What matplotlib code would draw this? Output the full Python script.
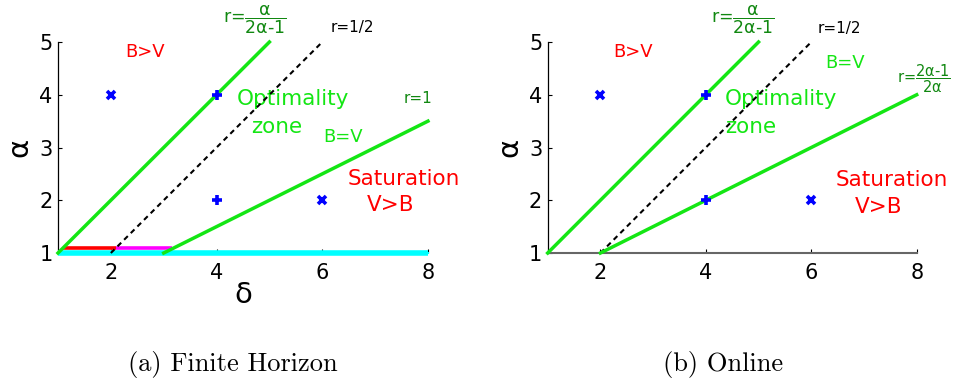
import numpy as np
import matplotlib
matplotlib.use('Agg')
import matplotlib.pyplot as plt

plt.rcParams['font.family'] = 'DejaVu Sans'
plt.rcParams['mathtext.fontset'] = 'dejavusans'

# axis ticks
delta_ticks = [2, 4, 6, 8]
alpha_ticks = [1, 2, 3, 4, 5]

# (a) finite horizon boundaries (delta, alpha)
fh_upper_d, fh_upper_a = [1, 5], [1, 5]
fh_half_d, fh_half_a = [2, 6], [1, 5]
fh_r1_d, fh_r1_a = [3, 8], [1, 3.5]
fh_cyan_d, fh_cyan_a = [1, 8], [1, 1]
fh_red_d, fh_red_a = [1.1, 2.1], [1.1, 1.1]
fh_mag_d, fh_mag_a = [2.1, 3.15], [1.1, 1.1]

# (b) online boundaries
on_upper_d, on_upper_a = [1, 5], [1, 5]
on_half_d, on_half_a = [2, 6], [1, 5]
on_lower_d, on_lower_a = [2, 8], [1, 4]

# sample points
cross_d, cross_a = [2, 6], [4, 2]
plus_d, plus_a = [4, 4], [4, 2]

GREEN = '#14e614'
DKGREEN = '#118811'
DASH = (0, (2.5, 2))

fig = plt.figure(figsize=(9.54, 3.83), dpi=100)
ax1 = fig.add_axes([0.0608, 0.3394, 0.3878, 0.5509])
ax2 = fig.add_axes([0.5741, 0.3394, 0.3868, 0.5509])


def style_axes(ax, bottom_color):
    ax.set_xlim(1, 8)
    ax.set_ylim(1, 5)
    ax.set_xticks(delta_ticks)
    ax.set_yticks(alpha_ticks)
    for s in ['top', 'right']:
        ax.spines[s].set_visible(False)
    ax.spines['left'].set_linewidth(0.9)
    ax.spines['bottom'].set_color(bottom_color)
    ax.spines['bottom'].set_linewidth(1.5)
    ax.tick_params(axis='both', direction='in', length=3, labelsize=15)
    ax.tick_params(axis='x', pad=7)
    ax.tick_params(axis='y', pad=4)
    ax.set_ylabel('α', fontsize=21)
    ax.yaxis.set_label_coords(-0.105, 0.5)
    ax.yaxis.label.set_va('center')


style_axes(ax1, '#00ffff')
style_axes(ax2, '#666666')

# ---- (a) Finite Horizon ----
ax1.plot(fh_cyan_d, fh_cyan_a, color='#00ffff', lw=4, clip_on=False, zorder=3, solid_capstyle='butt')
ax1.plot(fh_red_d, fh_red_a, color='#ff0000', lw=2.6, clip_on=False, zorder=3, solid_capstyle='butt')
ax1.plot(fh_mag_d, fh_mag_a, color='#ff00ff', lw=2.6, clip_on=False, zorder=3, solid_capstyle='butt')
ax1.plot(fh_upper_d, fh_upper_a, color=GREEN, lw=2.5, clip_on=False, zorder=4)
ax1.plot(fh_half_d, fh_half_a, color='black', lw=1.5, ls=DASH, clip_on=False, zorder=4)
ax1.plot(fh_r1_d, fh_r1_a, color=GREEN, lw=2.5, clip_on=False, zorder=4)
ax1.plot(cross_d, cross_a, 'x', color='blue', ms=6, mew=2.6, zorder=5)
ax1.plot(plus_d, plus_a, '+', color='blue', ms=7, mew=2.6, zorder=5)

ax1.text(2.65, 4.81, 'B>V', color='red', fontsize=13, ha='center', va='center')
ax1.text(4.73, 5.42, r'r=$\mathregular{\dfrac{α}{2α\text{-}1}}$', color=DKGREEN, fontsize=12.5,
         ha='center', va='center')
ax1.text(6.57, 5.28, 'r=1/2', color='black', fontsize=11, ha='center', va='center')
ax1.text(4.39, 3.92, 'Optimality', color=GREEN, fontsize=15.5, ha='left', va='center')
ax1.text(4.66, 3.39, 'zone', color=GREEN, fontsize=15.5, ha='left', va='center')
ax1.text(6.39, 3.2, 'B=V', color=GREEN, fontsize=13, ha='center', va='center')
ax1.text(7.82, 3.92, 'r=1', color=DKGREEN, fontsize=11, ha='center', va='center')
ax1.text(7.55, 2.40, 'Saturation', color='red', fontsize=15.5, ha='center', va='center')
ax1.text(7.29, 1.91, 'V>B', color='red', fontsize=15.5, ha='center', va='center')
ax1.set_xlabel('δ', fontsize=21)
ax1.xaxis.set_label_coords(0.5, -0.2)
ax1.xaxis.label.set_va('center')

# ---- (b) Online ----
ax2.plot(on_upper_d, on_upper_a, color=GREEN, lw=2.5, clip_on=False, zorder=4)
ax2.plot(on_half_d, on_half_a, color='black', lw=1.5, ls=DASH, clip_on=False, zorder=4)
ax2.plot(on_lower_d, on_lower_a, color=GREEN, lw=2.5, clip_on=False, zorder=4)
ax2.plot(cross_d, cross_a, 'x', color='blue', ms=6, mew=2.6, zorder=5)
ax2.plot(plus_d, plus_a, '+', color='blue', ms=7, mew=2.6, zorder=5)

ax2.text(2.61, 4.81, 'B>V', color='red', fontsize=13, ha='center', va='center')
ax2.text(4.70, 5.42, r'r=$\mathregular{\dfrac{α}{2α\text{-}1}}$', color=DKGREEN, fontsize=12.5,
         ha='center', va='center')
ax2.text(6.53, 5.25, 'r=1/2', color='black', fontsize=11, ha='center', va='center')
ax2.text(6.65, 4.60, 'B=V', color=GREEN, fontsize=13, ha='center', va='center')
ax2.text(8.13, 4.30, r'r=$\mathregular{\dfrac{2α\text{-}1}{2α}}$', color=DKGREEN, fontsize=10.5,
         ha='center', va='center')
ax2.text(4.36, 3.92, 'Optimality', color=GREEN, fontsize=15.5, ha='left', va='center')
ax2.text(4.36, 3.39, 'zone', color=GREEN, fontsize=15.5, ha='left', va='center')
ax2.text(7.53, 2.38, 'Saturation', color='red', fontsize=15.5, ha='center', va='center')
ax2.text(7.27, 1.88, 'V>B', color='red', fontsize=15.5, ha='center', va='center')

# captions
fig.text(233 / 954, 1 - 365 / 383, '(a) Finite Horizon', family='cmr10', fontsize=19,
         ha='center', va='center')
fig.text(723 / 954, 1 - 365 / 383, '(b) Online', family='cmr10', fontsize=19,
         ha='center', va='center')

fig.savefig('out.png', dpi=100)
